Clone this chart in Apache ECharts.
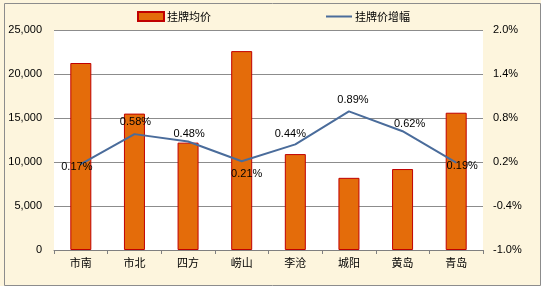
<!DOCTYPE html>
<html><head><meta charset="utf-8">
<script src="https://cdn.jsdelivr.net/npm/echarts@6/dist/echarts.min.js"></script>
<style>html,body{margin:0;padding:0;background:#FDF5DD;}#c{width:541px;height:286px;}</style>
</head><body><div id="c"></div>
<script>
var categories = ['市南','市北','四方','崂山','李沧','城阳','黄岛','青岛'];
var avgPrice = [21250, 15500, 12200, 22600, 10900, 8200, 9200, 15600];
var growth = [0.17, 0.58, 0.48, 0.21, 0.44, 0.89, 0.62, 0.19];
var leftTicks = [0, 5000, 10000, 15000, 20000, 25000];
var rightTicks = [-1.0, -0.4, 0.2, 0.8, 1.4, 2.0];
var seriesNames = ['挂牌均价', '挂牌价增幅'];

var labelOffsets = [[-4,3],[1,-12.5],[1,-7.5],[5,13],[-5,-10],[4,-11.5],[7,-7],[6,3]];
var fontNum = '"Liberation Sans", Arial, "Noto Sans CJK SC", sans-serif';
var fontCJK = '"Noto Sans CJK SC", "Liberation Sans", sans-serif';

var chart = echarts.init(document.getElementById('c'), null, {renderer:'canvas'});
chart.setOption({
  backgroundColor: '#FDF5DD',
  animation: false,
  graphic: [{
    type: 'rect', left: 2, top: 1, silent: true,
    shape: {width: 536, height: 282},
    style: {fill: 'none', stroke: '#8c8c8c', lineWidth: 1}
  }],
  legend: {
    top: 6, left: 132, itemGap: 114, itemWidth: 26, itemHeight: 9,
    textStyle: {fontFamily: fontCJK, fontSize: 11, color: '#000', padding: [0,0,0,-2]},
    data: [{name: seriesNames[0], icon: 'rect'}, {name: seriesNames[1], itemStyle: {opacity: 0}}]
  },
  grid: {left: 54, right: 58, top: 30, bottom: 36, show: true, backgroundColor: '#fff', borderWidth: 0, containLabel: false},
  xAxis: {
    type: 'category', data: categories,
    axisLine: {show: true, lineStyle: {color: '#808080', width: 1}},
    axisTick: {show: true, length: 4, lineStyle: {color: '#808080'}},
    axisLabel: {fontFamily: fontCJK, fontSize: 11, color: '#000', margin: 7}
  },
  yAxis: [{
    type: 'value', min: 0, max: 25000, interval: 5000,
    axisLine: {show: false}, axisTick: {show: false},
    splitLine: {lineStyle: {color: '#8c8c8c', width: 1}},
    axisLabel: {fontFamily: fontNum, fontSize: 11, color: '#000', margin: 12,
      customValues: leftTicks,
      formatter: function(v){ return v.toLocaleString('en-US'); }}
  },{
    type: 'value', min: rightTicks[0], max: rightTicks[rightTicks.length-1],
    axisLine: {show: false}, axisTick: {show: false}, splitLine: {show: false},
    axisLabel: {fontFamily: fontNum, fontSize: 11, color: '#000', margin: 10,
      customValues: rightTicks,
      formatter: function(v){ return v.toFixed(1) + '%'; }}
  }],
  series: [{
    name: seriesNames[0], type: 'bar', data: avgPrice, barWidth: 21,
    itemStyle: {color: '#E46C0A', borderColor: '#C00000', borderWidth: 1}
  },{
    name: seriesNames[1], type: 'line', yAxisIndex: 1, symbol: 'circle', symbolSize: 1, showSymbol: true,
    lineStyle: {color: '#4A6C9B', width: 2}, itemStyle: {color: '#4A6C9B'},
    data: growth.map(function(v, i){
      return {value: v, label: {offset: labelOffsets[i]}};
    }),
    label: {show: true, position: 'inside', fontFamily: fontNum, fontSize: 11, color: '#000',
      formatter: function(p){ return p.value.toFixed(2) + '%'; }}
  }]
});
</script></body></html>
